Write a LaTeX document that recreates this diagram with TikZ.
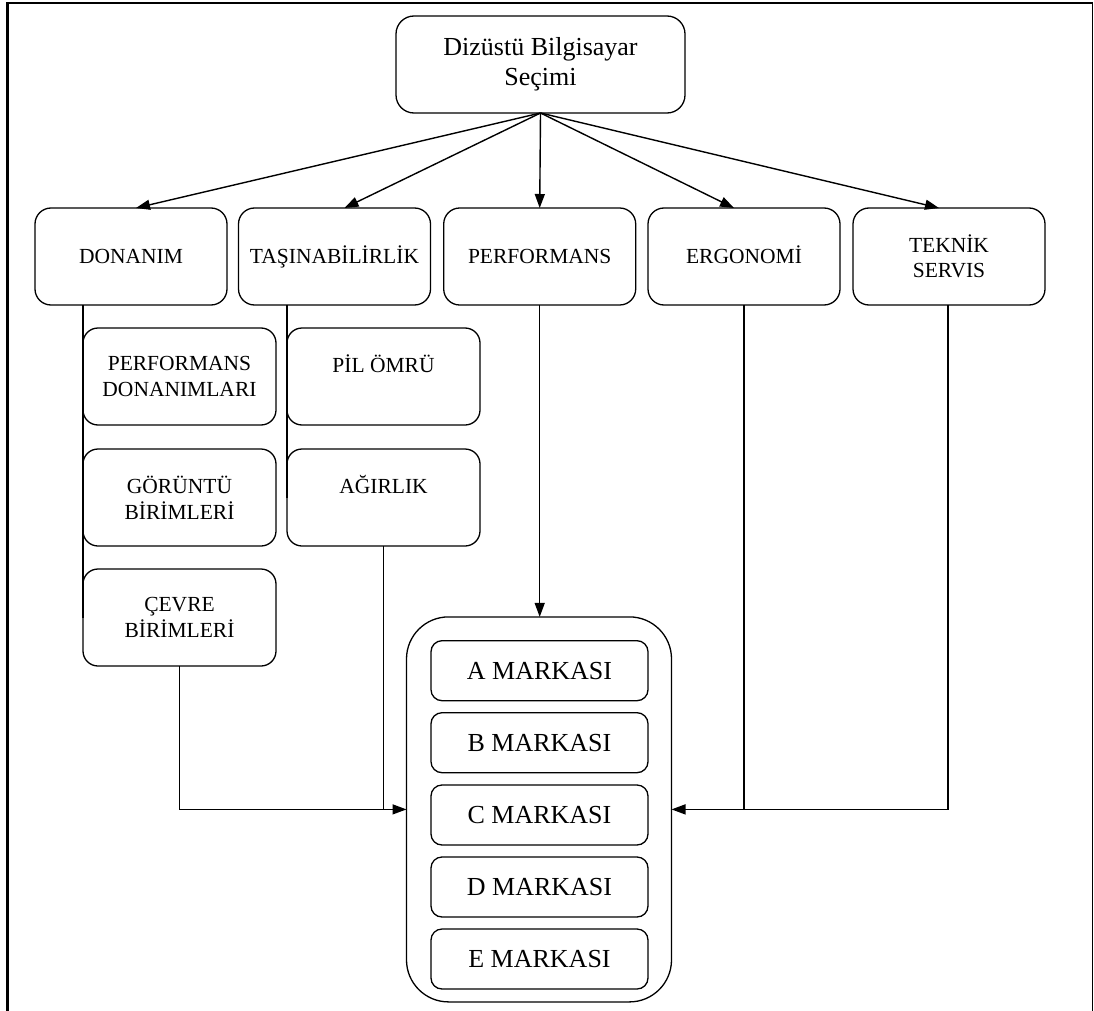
\documentclass[tikz,border=0pt]{standalone}
\usepackage{fontspec}
\setmainfont{Liberation Serif}
\usetikzlibrary{arrows.meta}
\begin{document}
\begin{tikzpicture}[x=1pt,y=-1pt,
  every node/.style={inner sep=0pt,outer sep=0pt},
  basebox/.style={draw,line width=1.3pt,align=center},
  topbox/.style={basebox,rounded corners=18pt,minimum width=289pt,minimum height=97pt,font=\fontsize{26}{30}\selectfont},
  catbox/.style={basebox,rounded corners=16pt,minimum width=192pt,minimum height=97pt,font=\fontsize{21.5}{25}\selectfont},
  subbox/.style={basebox,rounded corners=15pt,minimum width=193pt,minimum height=97pt,font=\fontsize{21.5}{26.3}\selectfont},
  brandbox/.style={basebox,rounded corners=11pt,minimum width=217pt,minimum height=60pt,font=\fontsize{26}{30}\selectfont},
  groupbox/.style={draw,line width=1.3pt,rounded corners=42pt,minimum width=265pt,minimum height=385pt},
  conn/.style={line width=1.4pt},
  arr/.style={conn,-{Triangle[length=14pt,width=10pt]}}
]
\useasboundingbox (0,0) rectangle (1094,1011);
\fill[white] (0,0) rectangle (1094,1011);
% frame
\draw[line width=2.2pt] (7.5,1011) -- (7.5,3) -- (1093,3);
\draw[line width=1.6pt] (1092.5,2) -- (1092.5,1011);

% top
\node[topbox] (top) at (540.5,64.5) {Dizüstü Bilgisayar\\Seçimi};

% categories
\node[catbox] (don) at (131,256.5) {DONANIM};
\node[catbox] (tas) at (334.5,256.5) {TAŞINABİLİRLİK};
\node[catbox] (perf) at (539.7,256.5) {PERFORMANS};
\node[catbox,text height=14.5pt,text depth=0pt] (erg) at (744,256.5) {ERGONOMİ};
\node[catbox] (tek) at (949,256.5) {TEKNİK\\SERVIS};

% sub-boxes
\node[subbox] (pd) at (179.5,376.5) {PERFORMANS\\DONANIMLARI};
\node[subbox] (gb) at (179.5,497.5) {GÖRÜNTÜ\\BİRİMLERİ};
\node[subbox] (cb) at (179.5,617.5) {ÇEVRE\\BİRİMLERİ};
\node[subbox] (pil) at (383.5,376.5) {PİL ÖMRÜ\\\phantom{X}};
\node[subbox] (agr) at (383.5,497.5) {AĞIRLIK\\\phantom{X}};

% brands group
\node[groupbox] (grp) at (539,809.4) {};
\node[brandbox] (ma) at (539.5,670.7) {A MARKASI};
\node[brandbox] (mb) at (539.5,742.7) {B MARKASI};
\node[brandbox] (mc) at (539.5,815) {C MARKASI};
\node[brandbox] (md) at (539.5,887) {D MARKASI};
\node[brandbox] (me) at (539.5,959) {E MARKASI};

% connectors from top
\coordinate (src) at (top.south);
\draw[arr] (src) -- ([xshift=5pt]don.north);
\draw[arr] (src) -- ([xshift=10pt]tas.north);
\draw[arr] (src) -- (perf.north);
\draw[arr] (src) -- ([xshift=-10pt]erg.north);
\draw[arr] (src) -- ([xshift=-10pt]tek.north);

% left branches
\draw[conn] (pd.west |- don.south) -- (cb.west);
\draw[conn] (pil.west |- tas.south) -- (agr.west);
\draw[arr] (cb.south) |- (grp.west);
\draw[conn] (agr.south) -- (agr.south |- grp.west);

% performance
\draw[arr] (perf.south) -- (perf.south |- grp.north);

% right branches
\draw[arr] ([xshift=-1pt]tek.south) |- (grp.east);
\draw[conn] (erg.south) -- (erg.south |- grp.east);
\end{tikzpicture}
\end{document}
